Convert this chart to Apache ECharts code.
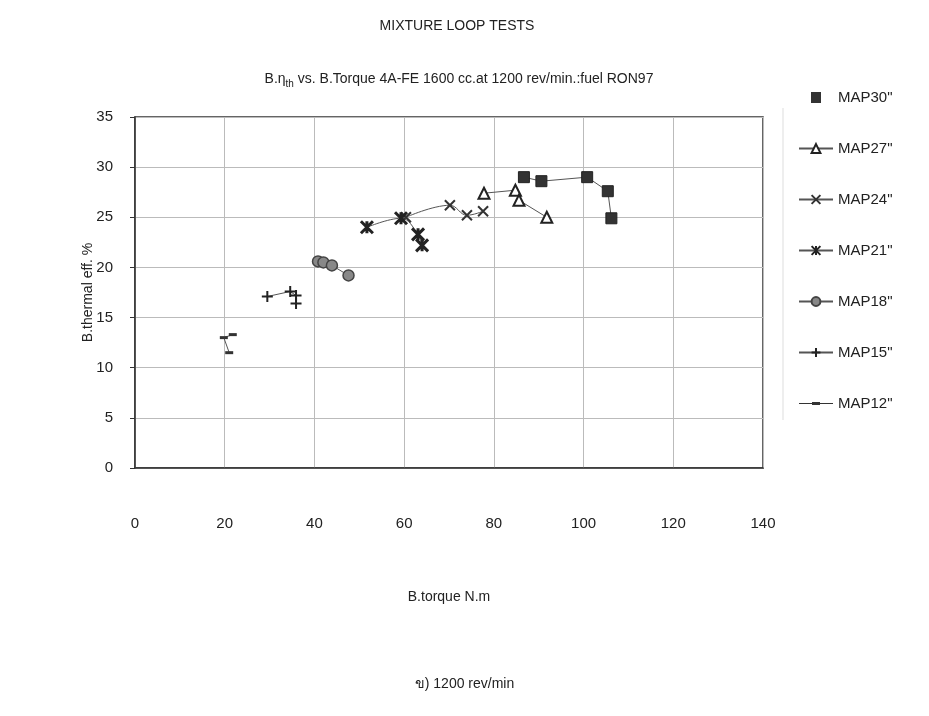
<!DOCTYPE html>
<html>
<head>
<meta charset="utf-8">
<script src="https://cdn.jsdelivr.net/npm/echarts@6/dist/echarts.min.js"></script>
<style>html,body{margin:0;padding:0;background:#fff}#c{width:929px;height:716px}</style>
</head>
<body>
<div id="c"></div>
<script>
const seriesNames = ['MAP30"', 'MAP27"', 'MAP24"', 'MAP21"', 'MAP18"', 'MAP15"', 'MAP12"'];
const map30 = [[86.7, 29.0], [90.6, 28.6], [100.8, 29.0], [105.4, 27.6], [106.2, 24.9]];
const map27 = [[77.8, 27.4], [84.8, 27.7], [85.6, 26.7], [91.8, 25.0]];
const map24 = [[60.4, 25.0], [70.2, 26.2], [74.0, 25.2], [77.6, 25.6]];
const map21 = [[51.7, 24.0], [59.3, 24.9], [63.1, 23.3], [64.0, 22.2]];
const map18 = [[40.8, 20.6], [42.0, 20.5], [43.9, 20.2], [47.6, 19.2]];
const map15 = [[29.5, 17.1], [34.6, 17.6], [35.9, 17.2], [35.9, 16.4]];
const map12 = [[21.8, 13.3], [19.8, 13.0], [21.0, 11.5]];
const xTicks = [0, 20, 40, 60, 80, 100, 120, 140];
const yTicks = [0, 5, 10, 15, 20, 25, 30, 35];

const FONT = '"Liberation Sans", Arial, sans-serif';
const ink = '#222';
const lineCol = '#555';

function mk(name, data, symbol, size, itemStyle, smooth) {
  return {
    name: name, type: 'line', data: data, smooth: smooth ? 0.4 : false,
    symbol: symbol, symbolSize: size, showSymbol: true,
    lineStyle: { color: lineCol, width: 1 },
    itemStyle: itemStyle, z: 3
  };
}

const legendData = seriesNames.map(function (n, i) {
  if (i === 0) return { name: n, icon: 'path://M0,5.49L0.001,5.49L0.001,5.491L0,5.491Z M12,0L22,0L22,11L12,11Z M33.999,5.49L34,5.49L34,5.491L33.999,5.491Z', itemStyle: { color: '#333', borderWidth: 0 } };
  if (i === 6) return { name: n, icon: 'path://M0,0L0.001,0L0.001,0.001L0,0.001Z M0,5L34,5L34,6L0,6Z M13,4L21,4L21,7L13,7Z M33.999,10.999L34,10.999L34,11L33.999,11Z', itemStyle: { color: '#333', borderWidth: 0 } };
  return n;
});

const chart = echarts.init(document.getElementById('c'), null, { renderer: 'canvas' });
chart.setOption({
  backgroundColor: '#fff',
  animation: false,
  textStyle: { fontFamily: FONT, color: ink },
  title: [
    { text: 'MIXTURE LOOP TESTS', left: 452, top: 14, textAlign: 'center',
      textStyle: { fontFamily: FONT, fontSize: 14, fontWeight: 'normal', color: ink } },
    { text: '{a|B.η}{s|th}{a| vs. B.Torque 4A-FE 1600 cc.at 1200 rev/min.:fuel RON97}', left: 454, top: 64, textAlign: 'center',
      textStyle: { fontFamily: FONT, fontSize: 14, fontWeight: 'normal', color: ink,
        rich: { a: { fontFamily: FONT, fontSize: 14, color: ink }, s: { fontFamily: FONT, fontSize: 10, color: ink, verticalAlign: 'bottom', padding: [10, 0, 0, 0] } } } }
  ],
  legend: {
    orient: 'vertical', left: 793, top: 85, itemGap: 36, itemWidth: 34, itemHeight: 11,
    textStyle: { fontFamily: FONT, fontSize: 15, color: ink },
    data: legendData
  },
  grid: { left: 135, right: 166, top: 117, bottom: 248, show: true, borderColor: '#333', borderWidth: 1.5 },
  xAxis: {
    type: 'value', min: xTicks[0], max: xTicks[xTicks.length - 1], interval: 20,
    name: 'B.torque N.m', nameLocation: 'middle', nameGap: 122, nameMoveOverlap: false,
    nameTextStyle: { fontFamily: FONT, fontSize: 14, color: ink },
    axisLine: { show: true, lineStyle: { color: '#333', width: 1.5 } },
    axisTick: { show: false },
    axisLabel: { margin: 48, fontFamily: FONT, fontSize: 15, color: ink },
    splitLine: { show: true, lineStyle: { color: '#bbb', width: 1 } }
  },
  yAxis: {
    type: 'value', min: yTicks[0], max: yTicks[yTicks.length - 1], interval: 5,
    name: 'B.thermal eff. %', nameLocation: 'middle', nameGap: 40, nameRotate: 90, nameMoveOverlap: false,
    nameTextStyle: { fontFamily: FONT, fontSize: 14, color: ink },
    axisLine: { show: true, lineStyle: { color: '#333', width: 1.5 } },
    axisTick: { show: true, length: 5, lineStyle: { color: '#333' } },
    axisLabel: { margin: 22, fontFamily: FONT, fontSize: 15, color: ink },
    splitLine: { show: true, lineStyle: { color: '#bbb', width: 1 } }
  },
  graphic: [
    { type: 'text', left: 'center', top: 677, style: { text: 'ข) 1200 rev/min', font: '14px ' + FONT, fill: ink } },
    { type: 'line', shape: { x1: 783, y1: 108, x2: 783, y2: 420 }, style: { stroke: '#ddd', lineWidth: 1 } }
  ],
  series: [
    mk(seriesNames[0], map30, 'rect', 11, { color: '#333', borderColor: '#222', borderWidth: 1 }, false),
    mk(seriesNames[1], map27, 'triangle', 11, { color: '#fff', borderColor: '#222', borderWidth: 2 }, false),
    mk(seriesNames[2], map24, 'path://M0,0L10,10M10,0L0,10', 10, { color: 'none', borderColor: '#333', borderWidth: 2 }, true),
    mk(seriesNames[3], map21, 'path://M0,0L10,10M10,0L0,10M5,0L5,10', 12, { color: 'none', borderColor: '#222', borderWidth: 3 }, true),
    mk(seriesNames[4], map18, 'circle', 11, { color: '#888', borderColor: '#444', borderWidth: 1.5 }, false),
    mk(seriesNames[5], map15, 'path://M5,0L5,10M0,5L10,5', 11, { color: 'none', borderColor: '#222', borderWidth: 2 }, false),
    mk(seriesNames[6], map12, 'rect', [8, 3], { color: '#333' }, false)
  ]
});
</script>
</body>
</html>
